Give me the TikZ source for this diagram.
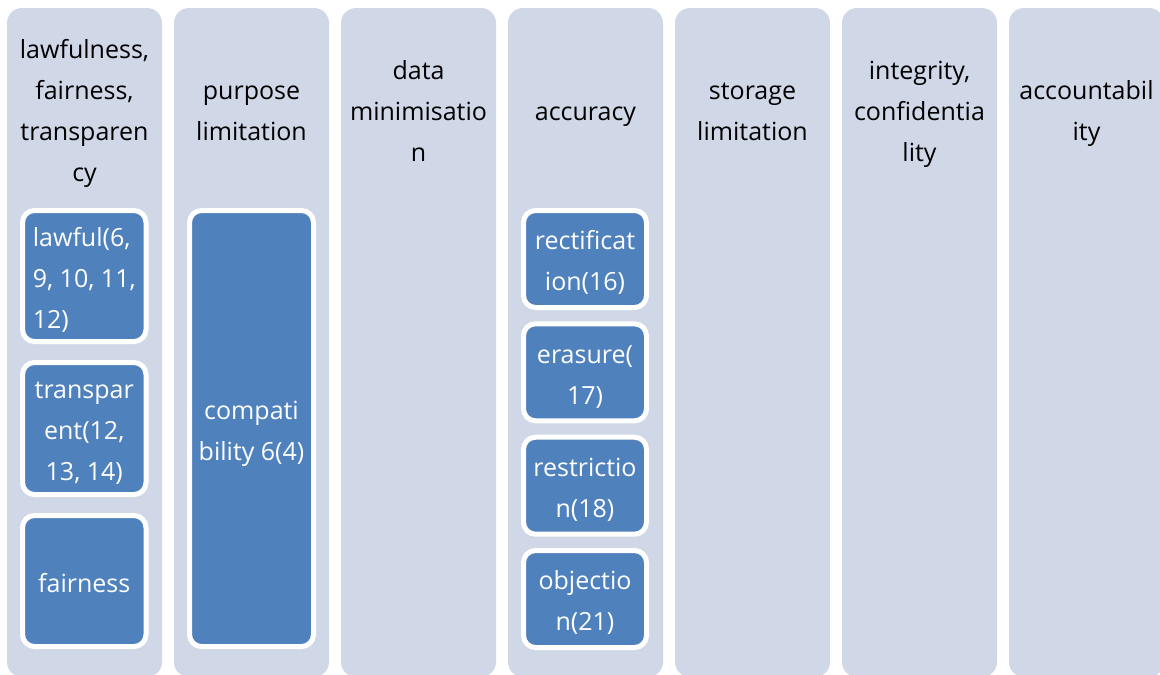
\documentclass[tikz,border=0pt]{standalone}
\usepackage{fontspec}
\setmainfont{Open Sans}
\definecolor{colfill}{HTML}{D0D8E8}
\definecolor{boxfill}{HTML}{4F81BD}
\definecolor{titletext}{HTML}{000000}
\newcommand\topstr{\rule{0pt}{35pt}}
\begin{document}
\begin{tikzpicture}[x=1pt,y=-1pt,
  col/.style={fill=colfill,draw=none,rounded corners=15pt,minimum width=155pt,minimum height=669pt,inner sep=0pt},
  title/.style={align=center,text=titletext,inner sep=0pt,font=\fontsize{25}{41}\selectfont},
  item/.style={fill=boxfill,draw=white,line width=5pt,rounded corners=12pt,inner sep=0pt,
    text=white,align=center,font=\fontsize{25}{41}\selectfont,minimum width=123.5pt}
]
\useasboundingbox (0,0) rectangle (1160,675);
\clip (0,0) rectangle (1160,675);
% columns
\foreach \i in {0,...,6}{
  \node[col] (c\i) at (84.5+167*\i,342.5) {};
}
% titles
\node[title] (t1) at (84.5,112) {lawfulness,\strut\\fairness,\strut\\transparen\strut\\cy\strut};
\node[title] (t2) at (251.5,112) {purpose\strut\\limitation\strut};
\node[title] (t3) at (418.5,112) {data\strut\\minimisatio\strut\\n\strut};
\node[title] (t4) at (585.5,112) {accuracy\strut};
\node[title] (t5) at (752.5,112) {storage\strut\\limitation\strut};
\node[title] (t6) at (919.5,112) {integrity,\strut\\confidentia\strut\\lity\strut};
\node[title] (t7) at (1086.5,112) {accountabil\strut\\ity\strut};
% column 1 items
\node[item,minimum height=131pt,align=left] (lawful) at (84.25,276) {lawful(6,\topstr\strut\\9, 10, 11,\strut\\12)\strut};
\node[item,minimum height=132pt] (transparent) at (84.25,428.5) {transpar\topstr\strut\\ent(12,\strut\\13, 14)\strut};
\node[item,minimum height=131pt] (fairness) at (84.25,581) {fairness\topstr\strut};
% column 2 item
\node[item,minimum height=436pt,minimum width=124pt] (compat) at (251.5,428.5) {compati\topstr\strut\\bility 6(4)\strut};
% column 4 items
\node[item,minimum height=97pt,minimum width=123pt] (rect) at (585,259) {rectificat\topstr\strut\\ion(16)\strut};
\node[item,minimum height=97pt,minimum width=123pt] (erasure) at (585,372.3) {erasure(\topstr\strut\\17)\strut};
\node[item,minimum height=97pt,minimum width=123pt] (restr) at (585,485.7) {restrictio\topstr\strut\\n(18)\strut};
\node[item,minimum height=97pt,minimum width=123pt] (object) at (585,599) {objectio\topstr\strut\\n(21)\strut};
\end{tikzpicture}
\end{document}
